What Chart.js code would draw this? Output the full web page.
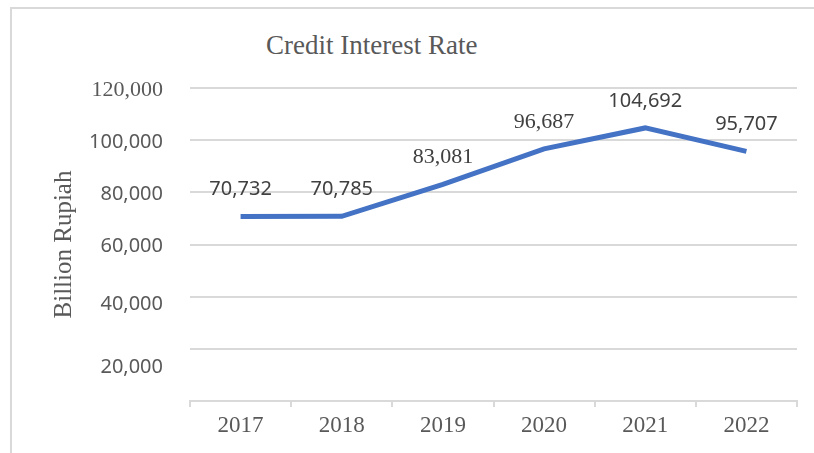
<!DOCTYPE html>
<html>
<head>
<meta charset="utf-8">
<title>Credit Interest Rate</title>
<script src="https://cdn.jsdelivr.net/npm/chart.js@4.4.1/dist/chart.umd.min.js"></script>
<style>
  body { margin: 0; background: #fff; }
  #wrap { position: absolute; left: 0; top: 0; width: 814px; height: 453px; overflow: hidden; }
  #frame { position: absolute; left: 10px; top: 7px; width: 830px; height: 470px;
           border: 2px solid #d9d9d9; box-sizing: border-box; }
  #titulo { position: absolute; left: 266px; top: 29px; font-family: "Liberation Serif", serif;
            font-size: 27px; line-height: 32px; color: #595959; white-space: nowrap; }
  canvas { position: absolute; left: 0; top: 0; }
</style>
</head>
<body>
<div id="wrap">
  <div id="frame"></div>
  <div id="titulo">Credit Interest Rate</div>
  <canvas id="grafica" width="814" height="453"></canvas>
</div>
<script>
var anios = ["2017", "2018", "2019", "2020", "2021", "2022"];
var interes = [70732, 70785, 83081, 96687, 104692, 95707];
var marcasY = [0, 20000, 40000, 60000, 80000, 100000, 120000];

var gris = "#d9d9d9";
var texto = "#595959";

// etiquetas de valor encima de cada punto
var etiquetas = {
    id: "etiquetas",
    afterDatasetsDraw: function(chart) {
        var ctx = chart.ctx;
        var meta = chart.getDatasetMeta(0);
        ctx.save();
        ctx.textAlign = "center";
        ctx.textBaseline = "middle";
        ctx.fillStyle = "#404040";
        meta.data.forEach(function(pt, i) {
            var v = chart.data.datasets[0].data[i];
            // 2019 y 2020 van con letra serif
            if (i == 2 || i == 3) {
                ctx.font = "22px 'Liberation Serif'";
            } else {
                ctx.font = "20px 'Noto Sans'";
            }
            ctx.fillText(v.toLocaleString("en-US"), pt.x, pt.y - 27);
        });
        ctx.restore();
    }
};

var chart1 = new Chart(document.getElementById("grafica").getContext("2d"), {
    type: "line",
    data: {
        labels: anios,
        datasets: [{
            data: interes,
            borderColor: "#4472C4",
            borderWidth: 5,
            pointRadius: 0,
            tension: 0,
            fill: false
        }]
    },
    options: {
        responsive: false,
        animation: false,
        layout: { padding: { top: 88, left: 0, right: 17, bottom: 0 } },
        plugins: { legend: { display: false }, title: { display: false }, tooltip: { enabled: false } },
        scales: {
            x: {
                offset: true,
                grid: { offset: true, drawOnChartArea: false, drawTicks: true, tickLength: 6, color: gris, lineWidth: 2 },
                border: { color: gris, width: 2 },
                ticks: { color: texto, font: { family: "Liberation Serif", size: 23 }, padding: 5 },
                afterFit: function(s) { s.height = 52; }
            },
            y: {
                min: 0,
                max: 120000,
                afterBuildTicks: function(s) { s.ticks = marcasY.map(function(v) { return { value: v }; }); },
                grid: { color: gris, lineWidth: 2, drawTicks: false },
                border: { display: false },
                ticks: {
                    autoSkip: false,
                    color: texto,
                    padding: 27,
                    labelOffset: 2,
                    callback: function(v) {
                        if (v === 0) return "";
                        var t = v.toLocaleString("en-US");
                        // las dos de abajo quedan algo más bajas que su línea
                        if (v <= 40000) return ["", t];
                        return t;
                    },
                    font: function(c) {
                        var v = c.tick ? c.tick.value : 0;
                        if (v == 120000) return { family: "Liberation Serif", size: 22 };
                        if (v == 20000) return { family: "Noto Sans", size: 20, lineHeight: 1.6 };
                        if (v == 40000) return { family: "Noto Sans", size: 20, lineHeight: 0.6 };
                        return { family: "Noto Sans", size: 20 };
                    }
                },
                title: {
                    display: true,
                    text: "Billion Rupiah",
                    color: texto,
                    font: { family: "Liberation Serif", size: 25 },
                    padding: { top: 49, bottom: 0 }
                },
                afterFit: function(s) { s.width = 190; }
            }
        }
    },
    plugins: [etiquetas]
});
</script>
</body>
</html>
